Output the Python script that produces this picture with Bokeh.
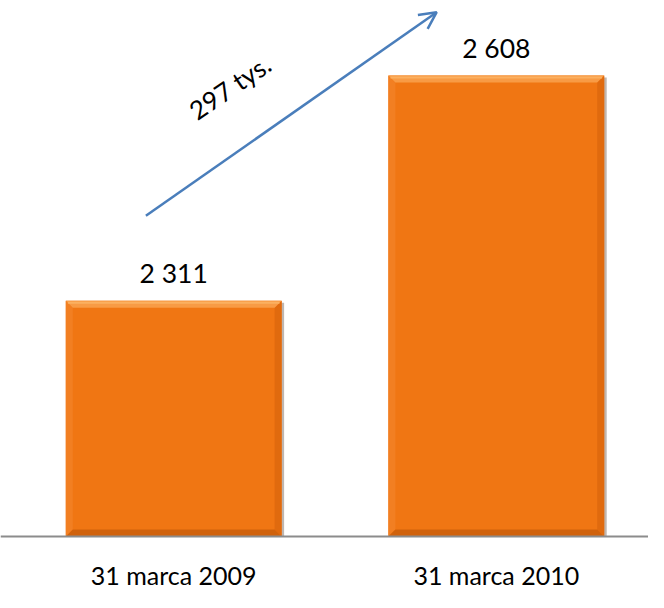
from bokeh.plotting import figure
from bokeh.models import Range1d, Span, Arrow, OpenHead
from bokeh.core.properties import value
from bokeh.embed import file_html
from bokeh.resources import INLINE

# ---- data ----
categories = ["31 marca 2009", "31 marca 2010"]
values = [2311, 2608]
unit_suffix = "tys."

# ---- layout / style ----
W, H = 648, 592
X_START, X_END = -0.0369, 1.9718
Y_START, Y_END = 1926.1, 2707.1
BASE = 2000
BAR_W = 0.669
FONT = "Lato"
ORANGE = "#F07613"
BLUE = "#4A7EBB"

px_x = W / (X_END - X_START)   # pixels per x unit
px_y = H / (Y_END - Y_START)   # pixels per y unit

p = figure(width=W, height=H, x_range=Range1d(X_START, X_END), y_range=Range1d(Y_START, Y_END),
           output_backend="svg", toolbar_location=None,
           x_axis_location=None, y_axis_location=None,
           min_border_left=0, min_border_right=0, min_border_top=0, min_border_bottom=0)
p.grid.visible = False
p.outline_line_color = None
p.background_fill_color = "white"

xs = [i + 0.5 for i in range(len(categories))]

# shadow on right side
sh = 2.5 / px_x
p.quad(left=[x + BAR_W / 2 - sh * 0.2 for x in xs], right=[x + BAR_W / 2 + sh for x in xs],
       bottom=[BASE] * len(xs), top=[v - 2 / px_y for v in values],
       fill_color="#8a7a70", fill_alpha=0.55, line_color=None)

# main bar
p.vbar(x=xs, width=BAR_W, bottom=BASE, top=values, fill_color=ORANGE, line_color=None)

# bevels
bx = 7 / px_x
by = 7 / px_y
top_xs, top_ys, bot_xs, bot_ys, l_xs, l_ys, r_xs, r_ys = [], [], [], [], [], [], [], []
for x, v in zip(xs, values):
    L, R = x - BAR_W / 2, x + BAR_W / 2
    top_xs.append([L, R, R - bx, L + bx]); top_ys.append([v, v, v - by, v - by])
    bot_xs.append([L, R, R - bx, L + bx]); bot_ys.append([BASE, BASE, BASE + by, BASE + by])
    l_xs.append([L, L + bx, L + bx, L]); l_ys.append([v, v - by, BASE + by, BASE])
    r_xs.append([R, R - bx, R - bx, R]); r_ys.append([v, v - by, BASE + by, BASE])
p.patches(l_xs, l_ys, fill_color="#F27F22", line_color=None)
p.patches(r_xs, r_ys, fill_color="#E06A0E", line_color=None)
p.patches(bot_xs, bot_ys, fill_color="#D0620C", line_color=None)
p.patches(top_xs, top_ys, fill_color="#F89B45", line_color=None)
# thin highlight at very top
p.quad(left=[x - BAR_W / 2 + bx * 0.3 for x in xs], right=[x + BAR_W / 2 - bx * 0.3 for x in xs],
       top=[v - 1 / px_y for v in values], bottom=[v - 3 / px_y for v in values],
       fill_color="#FBB060", line_color=None)

# baseline
p.add_layout(Span(location=BASE, dimension="width", line_color="#8c8c8c", line_width=2))

# value labels
p.text(x=xs, y=values, text=[f"{v:,}".replace(",", " ") for v in values],
       text_font=value(FONT), text_font_size="26.5px", text_color="black",
       text_align="center", text_baseline="middle", y_offset=-28)

# category labels
p.text(x=xs, y=[BASE] * len(xs), text=categories,
       text_font=value(FONT), text_font_size="25px", text_color="black",
       text_align="center", text_baseline="middle", y_offset=39)

# arrow
p.add_layout(Arrow(end=OpenHead(size=17, line_color=BLUE, line_width=2.5),
                   x_start=0.4138, y_start=2423, x_end=1.3152, y_end=2691.7,
                   line_color=BLUE, line_width=2.5))

# difference label
diff = values[1] - values[0]
p.text(x=[0.674], y=[2593], text=[f"{diff} {unit_suffix}"],
       text_font=value(FONT), text_font_size="26px", text_color="black",
       text_align="center", text_baseline="middle", angle=0.60)

open("out.html", "w").write(file_html(p, INLINE))
